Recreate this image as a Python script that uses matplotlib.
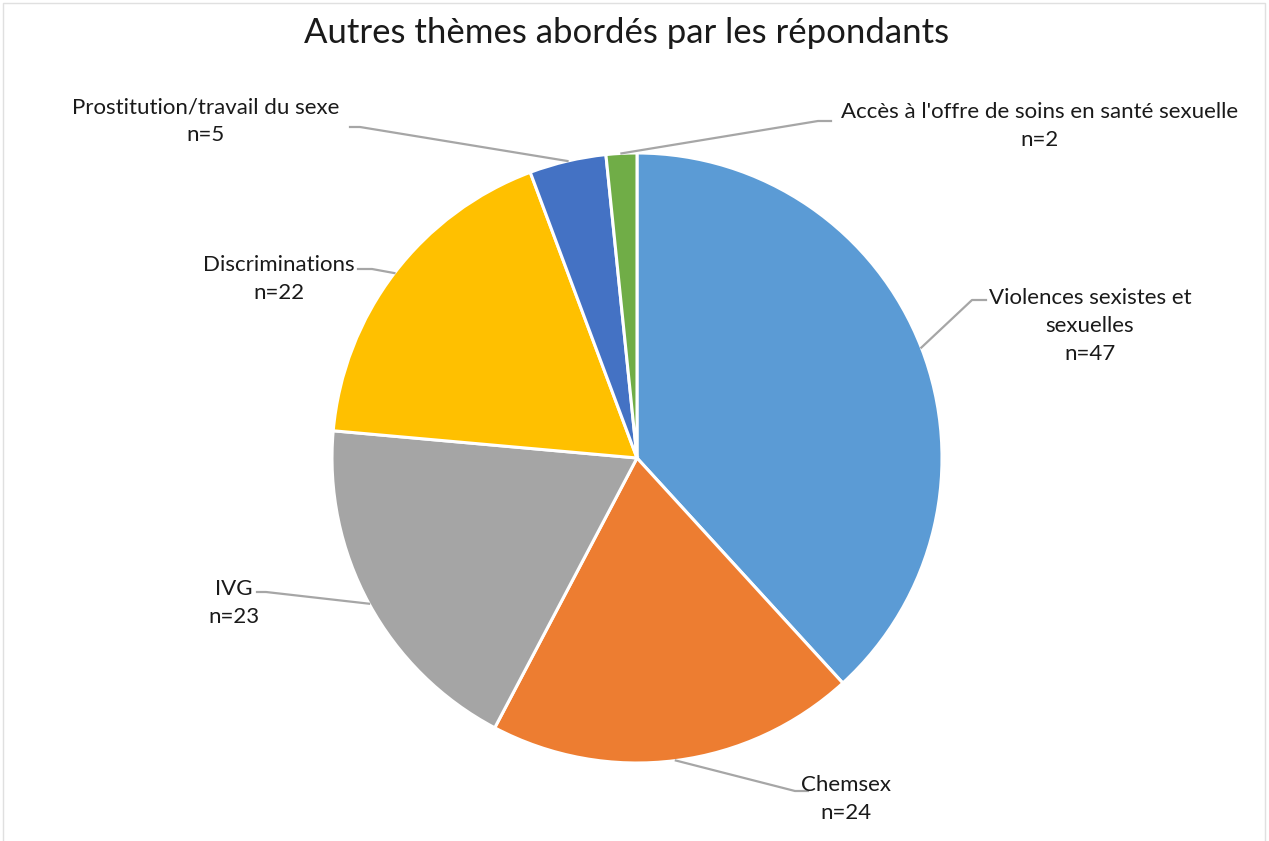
import numpy as np
import matplotlib
matplotlib.use("Agg")
import matplotlib.pyplot as plt
from matplotlib.lines import Line2D

# Data
themes = [
    "Violences sexistes et\nsexuelles",
    "Chemsex",
    "IVG",
    "Discriminations",
    "Prostitution/travail du sexe",
    "Accès à l'offre de soins en santé sexuelle",
]
counts = [47, 24, 23, 22, 5, 2]
colors = ["#5B9BD5", "#ED7D31", "#A5A5A5", "#FFC000", "#4472C4", "#70AD47"]
title = "Autres thèmes abordés par les répondants"

W, H = 1269, 841
plt.rcParams["font.family"] = ["Lato", "DejaVu Sans"]

fig = plt.figure(figsize=(W / 100, H / 100), dpi=100)
ax = fig.add_axes([0, 0, 1, 1])

# work in pixel-like coordinates, y measured upward
cx, cy, R = 637, H - 458, 305

wedges, _ = ax.pie(
    counts,
    colors=colors,
    startangle=90,
    counterclock=False,
    radius=R,
    center=(cx, cy),
    wedgeprops=dict(edgecolor="white", linewidth=2.2),
)
ax.set_xlim(0, W)
ax.set_ylim(0, H)
ax.set_aspect("equal")
ax.axis("off")

# label block centres and leader elbows (y from the top)
label_pos = [(1090, 326), (846, 799), (234, 603), (279, 279), (206, 121), (1040, 126)]
elbows = [
    [(972, 300), (986, 300)],
    [(795, 791), (808, 791)],
    [(266, 592), (257, 592)],
    [(372, 269), (358, 269)],
    [(360, 127), (350, 127)],
    [(818, 121), (831, 121)],
]

for w, name, n, (lx, ly), elb in zip(wedges, themes, counts, label_pos, elbows):
    mid = np.deg2rad((w.theta1 + w.theta2) / 2)
    sx = cx + R * np.cos(mid)
    sy = cy + R * np.sin(mid)
    xs = [sx] + [p[0] for p in elb]
    ys = [sy] + [H - p[1] for p in elb]
    ax.add_line(Line2D(xs, ys, color="#A6A6A6", lw=1.6, zorder=1))
    ax.text(lx, H - ly, f"{name}\nn={n}", ha="center", va="center",
            multialignment="center", fontsize=16, color="#1a1a1a",
            linespacing=1.5)

ax.text(W / 2 - 8, H - 33, title, ha="center", va="center", fontsize=25,
        color="#1a1a1a")

# chart frame
ax.add_line(Line2D([3, 3, W - 4, W - 4], [-5, H - 3, H - 3, -5],
                   color="#E0E0E0", lw=1.0))

fig.savefig("out.png", dpi=100)
